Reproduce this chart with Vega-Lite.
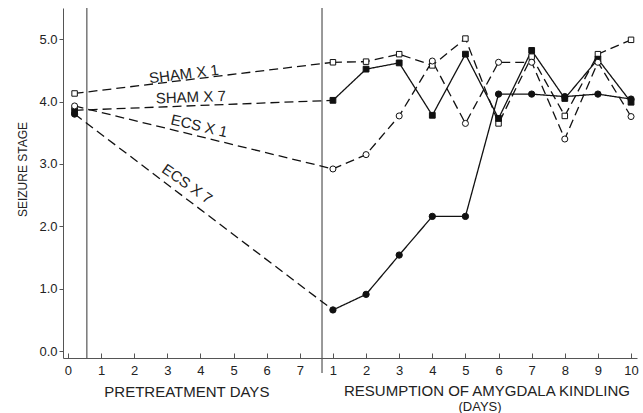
{
  "$schema": "https://vega.github.io/schema/vega-lite/v6.json",
  "width": 574,
  "height": 350,
  "autosize": {"type": "none"},
  "padding": {"left": 63, "top": 8, "right": 6, "bottom": 55},
  "background": "white",
  "config": {
    "view": {"stroke": null},
    "font": "Liberation Sans",
    "axis": {
      "grid": false,
      "domainColor": "#555",
      "tickColor": "#555",
      "labelFontSize": 13,
      "labelColor": "#222",
      "labelFont": "Liberation Sans"
    }
  },
  "datasets": {
    "seizure": [
      {"series": "SHAM X 1", "t": 0.2, "stage": 4.13},
      {"series": "SHAM X 1", "t": 8, "stage": 4.63},
      {"series": "SHAM X 1", "t": 9, "stage": 4.64},
      {"series": "SHAM X 1", "t": 10, "stage": 4.76},
      {"series": "SHAM X 1", "t": 11, "stage": 4.58},
      {"series": "SHAM X 1", "t": 12, "stage": 5.01},
      {"series": "SHAM X 1", "t": 13, "stage": 3.65},
      {"series": "SHAM X 1", "t": 14, "stage": 4.72},
      {"series": "SHAM X 1", "t": 15, "stage": 3.77},
      {"series": "SHAM X 1", "t": 16, "stage": 4.76},
      {"series": "SHAM X 1", "t": 17, "stage": 4.99},
      {"series": "SHAM X 7", "t": 0.2, "stage": 3.86},
      {"series": "SHAM X 7", "t": 8, "stage": 4.02},
      {"series": "SHAM X 7", "t": 9, "stage": 4.52},
      {"series": "SHAM X 7", "t": 10, "stage": 4.62},
      {"series": "SHAM X 7", "t": 11, "stage": 3.78},
      {"series": "SHAM X 7", "t": 12, "stage": 4.76},
      {"series": "SHAM X 7", "t": 13, "stage": 3.73},
      {"series": "SHAM X 7", "t": 14, "stage": 4.82},
      {"series": "SHAM X 7", "t": 15, "stage": 4.05},
      {"series": "SHAM X 7", "t": 16, "stage": 4.68},
      {"series": "SHAM X 7", "t": 17, "stage": 3.99},
      {"series": "ECS X 1", "t": 0.2, "stage": 3.93},
      {"series": "ECS X 1", "t": 8, "stage": 2.92},
      {"series": "ECS X 1", "t": 9, "stage": 3.15},
      {"series": "ECS X 1", "t": 10, "stage": 3.77},
      {"series": "ECS X 1", "t": 11, "stage": 4.65},
      {"series": "ECS X 1", "t": 12, "stage": 3.65},
      {"series": "ECS X 1", "t": 13, "stage": 4.63},
      {"series": "ECS X 1", "t": 14, "stage": 4.63},
      {"series": "ECS X 1", "t": 15, "stage": 3.4},
      {"series": "ECS X 1", "t": 16, "stage": 4.63},
      {"series": "ECS X 1", "t": 17, "stage": 3.76},
      {"series": "ECS X 7", "t": 0.2, "stage": 3.8},
      {"series": "ECS X 7", "t": 8, "stage": 0.66},
      {"series": "ECS X 7", "t": 9, "stage": 0.91},
      {"series": "ECS X 7", "t": 10, "stage": 1.54},
      {"series": "ECS X 7", "t": 11, "stage": 2.16},
      {"series": "ECS X 7", "t": 12, "stage": 2.16},
      {"series": "ECS X 7", "t": 13, "stage": 4.12},
      {"series": "ECS X 7", "t": 14, "stage": 4.12},
      {"series": "ECS X 7", "t": 15, "stage": 4.08},
      {"series": "ECS X 7", "t": 16, "stage": 4.12},
      {"series": "ECS X 7", "t": 17, "stage": 4.04}
    ],
    "labels": [
      {"label": "SHAM X 1", "t": 3.5, "stage": 4.44},
      {"label": "SHAM X 7", "t": 3.71, "stage": 4.07},
      {"label": "ECS X 1", "t": 3.96, "stage": 3.61},
      {"label": "ECS X 7", "t": 3.6, "stage": 2.68}
    ],
    "titles": [
      {"label": "PRETREATMENT DAYS", "t": 3.59, "stage": -0.65},
      {"label": "RESUMPTION OF AMYGDALA KINDLING", "t": 12.65, "stage": -0.64}
    ],
    "subtitles": [
      {"label": "(DAYS)", "t": 12.44, "stage": -0.89}
    ],
    "dividers": [
      {"t": 0.57, "stage": 5.5, "bottom": -0.11},
      {"t": 7.67, "stage": 5.5, "bottom": -0.35}
    ]
  },
  "encoding": {
    "x": {
      "field": "t", "type": "quantitative",
      "scale": {"domain": [-0.15, 17.18], "nice": false, "zero": false},
      "axis": {
        "title": null,
        "values": [0, 1, 2, 3, 4, 5, 6, 7, 8, 9, 10, 11, 12, 13, 14, 15, 16, 17],
        "labelExpr": "datum.value <= 7 ? datum.value : datum.value - 7",
        "labelOverlap": false,
        "labelSeparation": 0,
        "tickSize": -5,
        "labelPadding": 11
      }
    },
    "y": {
      "field": "stage", "type": "quantitative",
      "scale": {"domain": [-0.11, 5.5], "nice": false, "zero": false},
      "axis": {
        "title": "SEIZURE STAGE",
        "titleFontSize": 12,
        "titleFontWeight": "normal",
        "titleColor": "#222",
        "titleFont": "Liberation Sans",
        "titleAngle": -90,
        "titleAlign": "center",
        "titleBaseline": "middle",
        "titleX": -41,
        "titleY": 161,
        "values": [0, 1, 2, 3, 4, 5],
        "format": ".1f",
        "labelOverlap": false,
        "tickSize": 4,
        "labelPadding": 2
      }
    }
  },
  "layer": [
    {
      "data": {"name": "dividers"},
      "mark": {"type": "rule", "color": "#555", "strokeWidth": 1.2},
      "encoding": {
        "y2": {"field": "bottom"}
      }
    },
    {
      "data": {"name": "seizure"},
      "transform": [{"filter": "datum.t <= 8"}],
      "mark": {"type": "line", "color": "#111", "strokeWidth": 1.3, "strokeDash": [9, 5]},
      "encoding": {
        "detail": {"field": "series"}
      }
    },
    {
      "data": {"name": "seizure"},
      "transform": [{"filter": "datum.t >= 8"}],
      "mark": {"type": "line", "color": "#111", "strokeWidth": 1.3},
      "encoding": {
        "detail": {"field": "series"},
        "strokeDash": {
          "field": "series",
          "scale": {"domain": ["SHAM X 1", "SHAM X 7", "ECS X 1", "ECS X 7"], "range": [[9, 5], [1, 0], [9, 5], [1, 0]]},
          "legend": null
        }
      }
    },
    {
      "data": {"name": "seizure"},
      "mark": {"type": "point", "filled": true, "stroke": "#111", "strokeWidth": 1, "opacity": 1},
      "encoding": {
        "shape": {
          "field": "series",
          "scale": {"domain": ["SHAM X 1", "SHAM X 7", "ECS X 1", "ECS X 7"], "range": ["square", "square", "circle", "circle"]},
          "legend": null
        },
        "fill": {
          "field": "series",
          "scale": {"domain": ["SHAM X 1", "SHAM X 7", "ECS X 1", "ECS X 7"], "range": ["white", "#111", "white", "#111"]},
          "legend": null
        },
        "size": {
          "field": "series",
          "scale": {"domain": ["SHAM X 1", "SHAM X 7", "ECS X 1", "ECS X 7"], "range": [30, 40, 26, 24]},
          "legend": null
        }
      }
    },
    {
      "data": {"name": "labels"},
      "transform": [{"filter": "datum.label === 'SHAM X 1'"}],
      "mark": {"type": "text", "angle": -7, "fontSize": 15, "fill": "#222", "align": "center", "baseline": "middle"},
      "encoding": {"text": {"field": "label"}}
    },
    {
      "data": {"name": "labels"},
      "transform": [{"filter": "datum.label === 'SHAM X 7'"}],
      "mark": {"type": "text", "angle": -2, "fontSize": 15, "fill": "#222", "align": "center", "baseline": "middle"},
      "encoding": {"text": {"field": "label"}}
    },
    {
      "data": {"name": "labels"},
      "transform": [{"filter": "datum.label === 'ECS X 1'"}],
      "mark": {"type": "text", "angle": 13, "fontSize": 15, "fill": "#222", "align": "center", "baseline": "middle"},
      "encoding": {"text": {"field": "label"}}
    },
    {
      "data": {"name": "labels"},
      "transform": [{"filter": "datum.label === 'ECS X 7'"}],
      "mark": {"type": "text", "angle": 35, "fontSize": 15, "fill": "#222", "align": "center", "baseline": "middle"},
      "encoding": {"text": {"field": "label"}}
    },
    {
      "data": {"name": "titles"},
      "mark": {"type": "text", "fontSize": 15, "fill": "#222", "align": "center", "baseline": "middle"},
      "encoding": {"text": {"field": "label"}}
    },
    {
      "data": {"name": "subtitles"},
      "mark": {"type": "text", "fontSize": 13, "fill": "#222", "align": "center", "baseline": "middle"},
      "encoding": {"text": {"field": "label"}}
    }
  ]
}
